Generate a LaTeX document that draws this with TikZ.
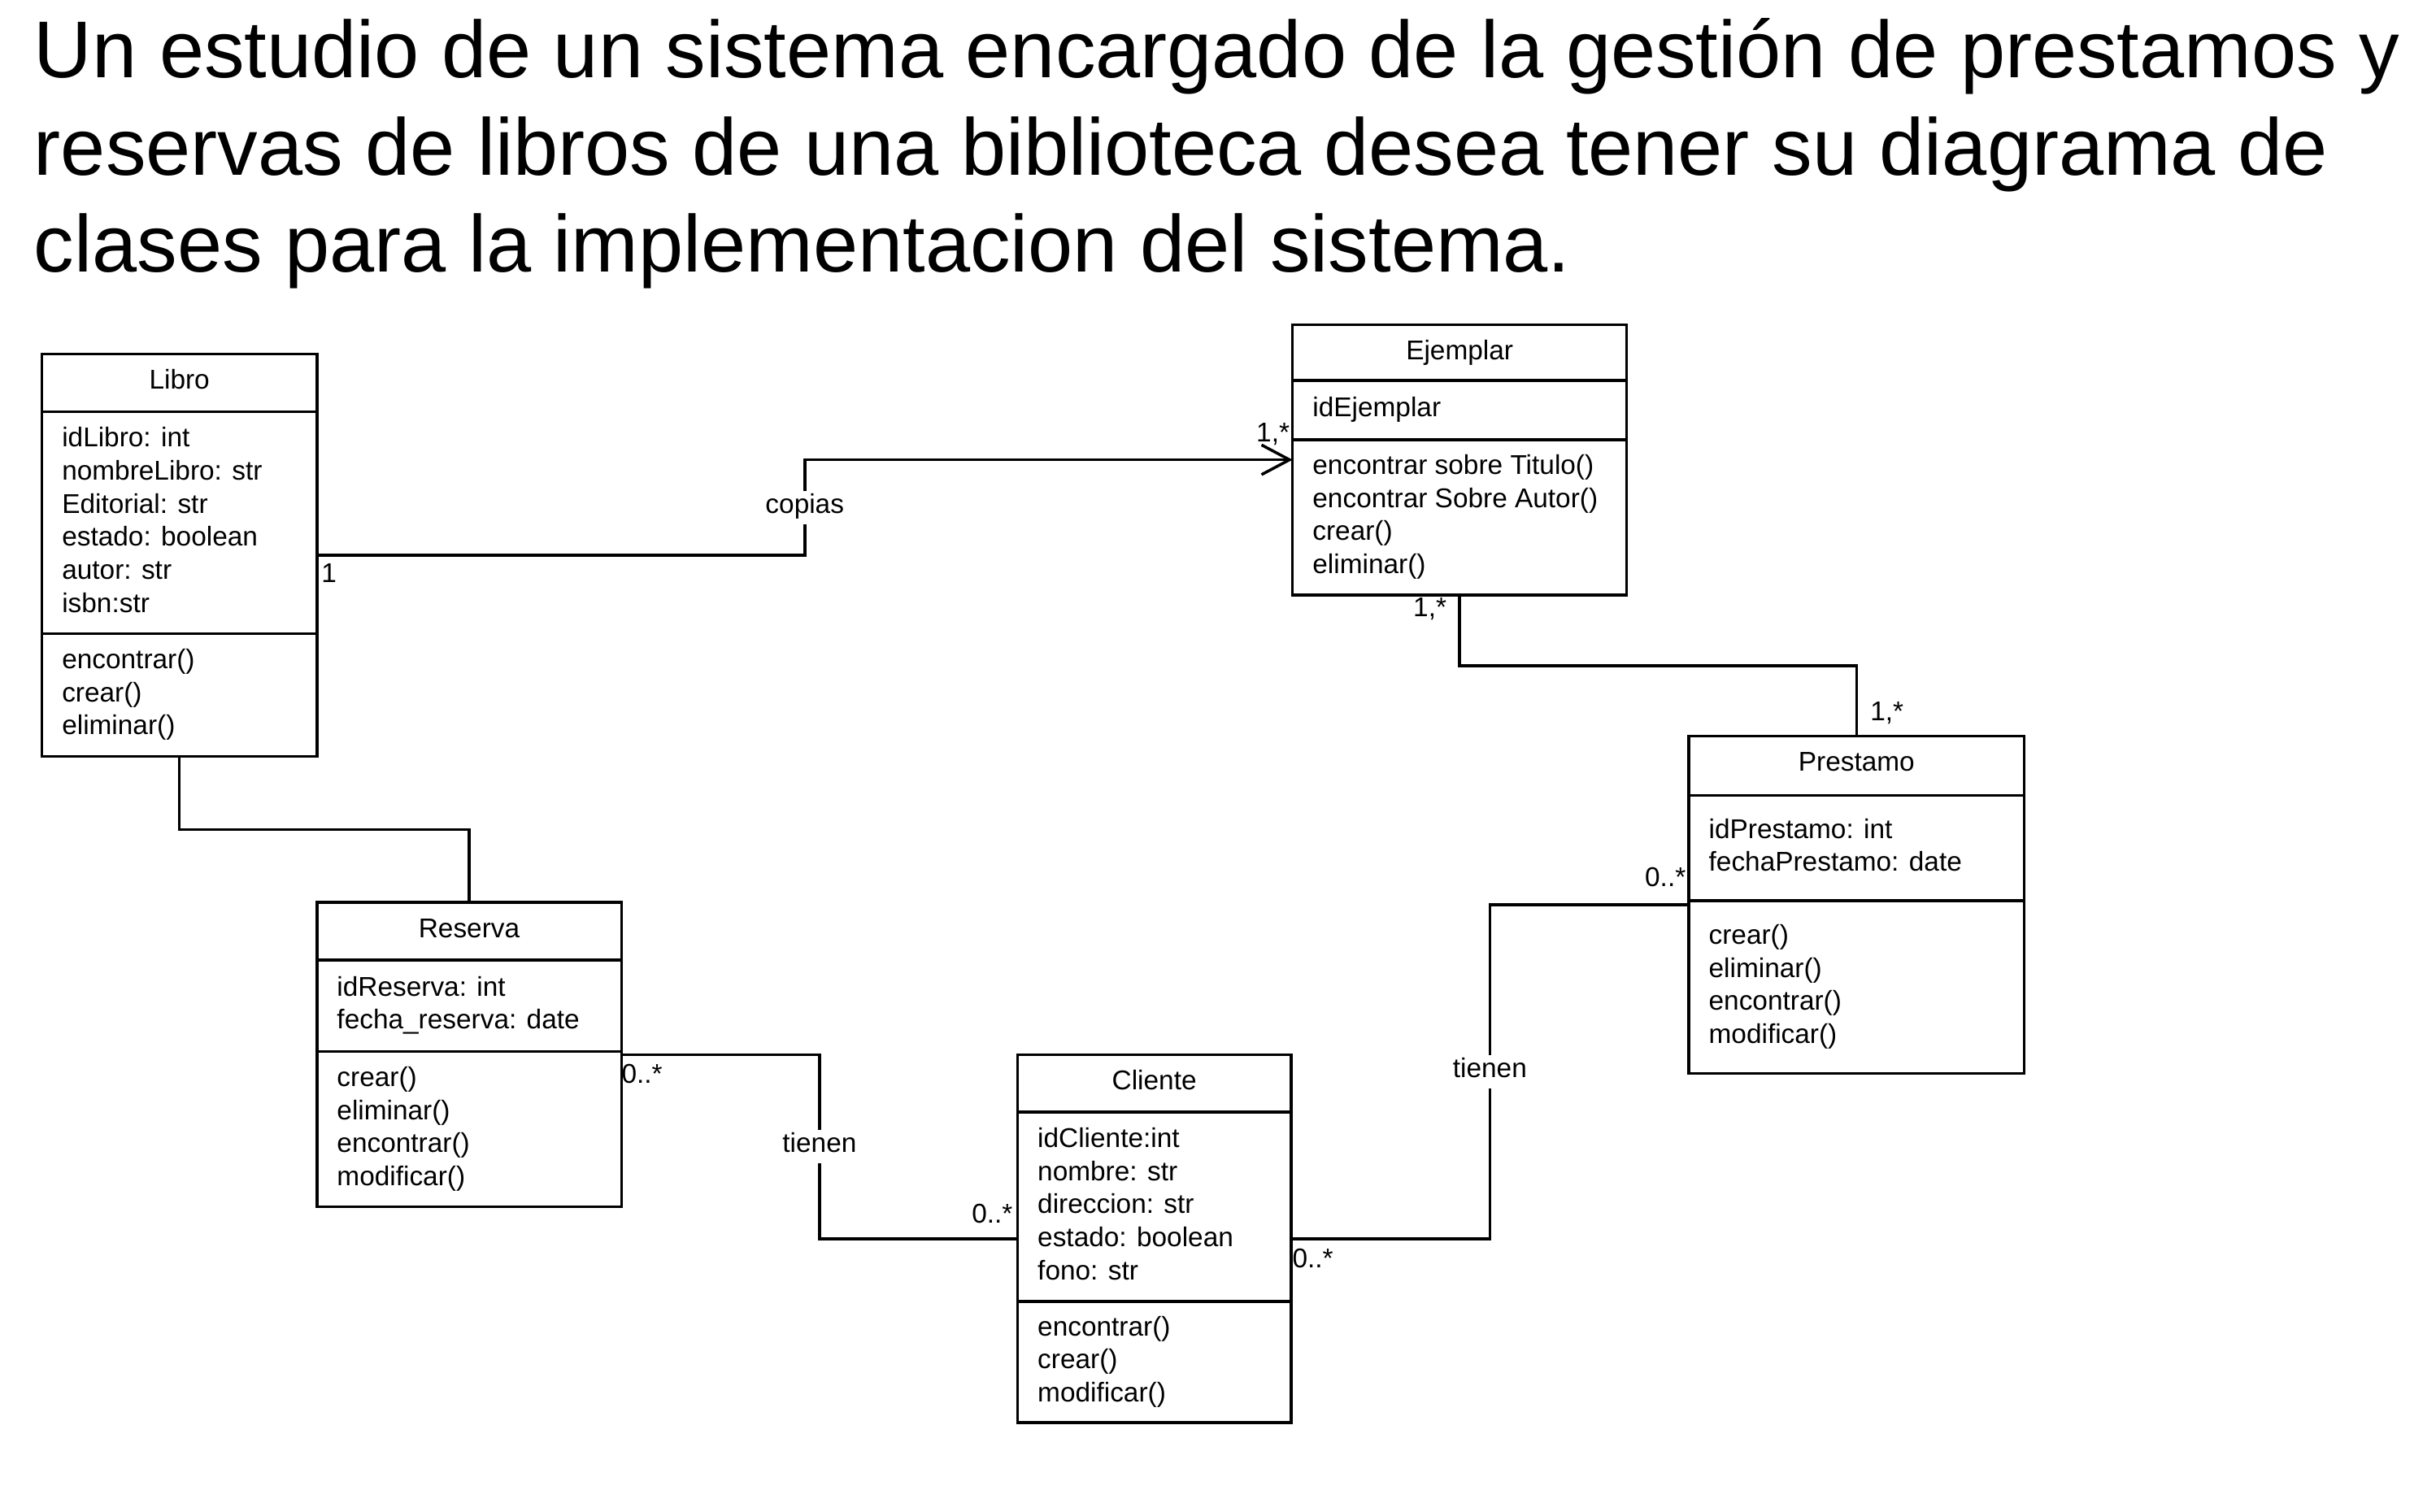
\documentclass[tikz,border=0pt]{standalone}
\usepackage{fontspec}
\setmainfont{Liberation Sans}
\usetikzlibrary{arrows.meta,positioning,fit,calc}

\begin{document}
\begin{tikzpicture}[x=0.0191cm, y=-0.0191cm, line width=1pt,
    font=\fontsize{9.5}{11.57}\selectfont,
    cls/.style={draw, inner sep=0pt, outer sep=0pt},
    ctitle/.style={anchor=base, inner sep=0pt},
    cbody/.style={anchor=base west, align=left, inner sep=0pt},
    mult/.style={inner sep=0pt},
    rel/.style={fill=white, inner sep=0pt, text height=8pt, text depth=3.8pt},
    tip/.style={-{Straight Barb[length=9.8pt,width=10.4pt]}}]
\useasboundingbox (0,0) rectangle (1568,973);
\fill[white] (0,0) rectangle (1568,973);

% base = last line
\node[anchor=base west, align=left, inner sep=0pt, font=\fontsize{28.2}{34.1}\selectfont] (titulo) at (21,175.3)
    {Un estudio de un sistema encargado de la gestión de prestamos y\\reservas de libros de una biblioteca desea tener su diagrama de\\clases para la implementacion del sistema.};

% Libro
\node[cls, fit={(27,228) (204,487)}] (libro) {};
\draw (27,265) -- (204,265) (27,408) -- (204,408);
\node[ctitle] (libro-t) at (115.5,250.5) {Libro};
\node[cbody] (libro-a) at (39,394.1) {idLibro: int\\nombreLibro: str\\Editorial: str\\estado: boolean\\autor: str\\isbn:str};
\node[cbody] (libro-m) at (39,473.1) {encontrar()\\crear()\\eliminar()};

% Ejemplar
\node[cls, fit={(832,209) (1047,383)}] (ejemplar) {};
\draw (832,245) -- (1047,245) (832,283) -- (1047,283);
\node[ctitle] (ejemplar-t) at (939.5,231.5) {Ejemplar};
\node[cbody] (ejemplar-a) at (844,268.4) {idEjemplar};
\node[cbody] (ejemplar-m) at (844,369.3) {encontrar sobre Titulo()\\encontrar Sobre Autor()\\crear()\\eliminar()};

% Prestamo
\node[cls, fit={(1087,474) (1303,691)}] (prestamo) {};
\draw (1087,512) -- (1303,512) (1087,580) -- (1303,580);
\node[ctitle] (prestamo-t) at (1195,496.5) {Prestamo};
\node[cbody] (prestamo-a) at (1099,561) {idPrestamo: int\\fechaPrestamo: date};
\node[cbody] (prestamo-m) at (1099,671.8) {crear()\\eliminar()\\encontrar()\\modificar()};

% Reserva
\node[cls, fit={(204,581) (400,777)}] (reserva) {};
\draw (204,618) -- (400,618) (204,677) -- (400,677);
\node[ctitle] (reserva-t) at (302,603.5) {Reserva};
\node[cbody] (reserva-a) at (216,662.5) {idReserva: int\\fecha\_reserva: date};
\node[cbody] (reserva-m) at (216,763.3) {crear()\\eliminar()\\encontrar()\\modificar()};

% Cliente
\node[cls, fit={(655,679) (831,916)}] (cliente) {};
\draw (655,716) -- (831,716) (655,838) -- (831,838);
\node[ctitle] (cliente-t) at (743,701.5) {Cliente};
\node[cbody] (cliente-a) at (667,823.9) {idCliente:int\\nombre: str\\direccion: str\\estado: boolean\\fono: str};
\node[cbody] (cliente-m) at (667,902.6) {encontrar()\\crear()\\modificar()};

% relaciones
\coordinate (m1) at ($(libro.east)!0.5!(ejemplar.west)$);
\coordinate (m2) at ($(ejemplar.south)!0.5!(prestamo.north)$);
\coordinate (m3) at ($(libro.south)!0.5!(reserva.north)$);
\coordinate (m4) at ($(reserva.east)!0.5!(cliente.west)$);
\coordinate (m5) at ($(cliente.east)!0.5!(prestamo.west)$);

\draw[tip] (libro.east) -| (m1) node[rel] (copias) {copias} |- (ejemplar.west);
\draw (ejemplar.south) |- (m2) -| (prestamo.north);
\draw (libro.south) |- (m3) -| (reserva.north);
\draw (reserva.east) -| (m4) node[rel] (tienen-a) {tienen} |- (cliente.west);
\draw (cliente.east) -| (m5) node[rel] (tienen-b) {tienen} |- (prestamo.west);

\node[mult, anchor=base west] (n-libro) at ([shift={(2,17.3)}]libro.east) {1};
\node[mult, anchor=base east] (n-ejemplar-o) at ([shift={(-1,-11.7)}]ejemplar.west) {1,*};
\node[mult, anchor=base east] (n-ejemplar-s) at ([shift={(-7.5,13.8)}]ejemplar.south) {1,*};
\node[mult, anchor=base west] (n-prestamo-n) at ([shift={(8,-10)}]prestamo.north) {1,*};
\node[mult, anchor=base west] (n-reserva) at ([shift={(-0.8,18.2)}]reserva.east) {0..*};
\node[mult, anchor=base east] (n-cliente-o) at ([shift={(-2.3,-10.3)}]cliente.west) {0..*};
\node[mult, anchor=base west] (n-cliente-e) at ([shift={(0,18.9)}]cliente.east) {0..*};
\node[mult, anchor=base east] (n-prestamo-o) at ([shift={(-1,-12)}]prestamo.west) {0..*};
\end{tikzpicture}
\end{document}
